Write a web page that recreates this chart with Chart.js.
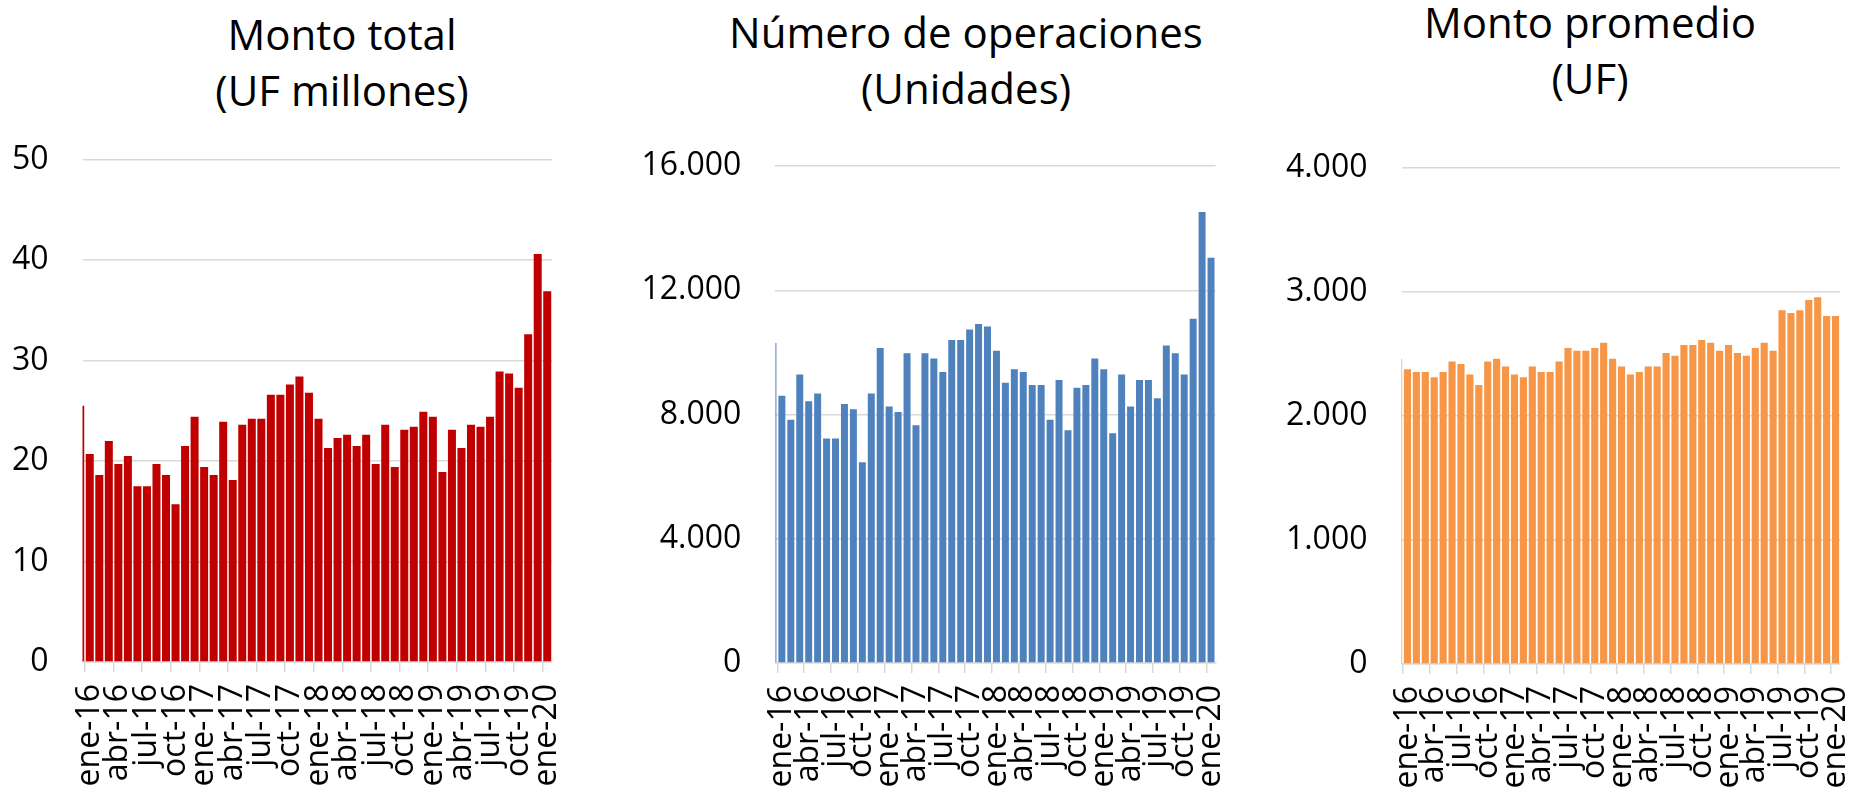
<!DOCTYPE html>
<html lang="es">
<head>
<meta charset="utf-8">
<title>Monto total, número de operaciones y monto promedio</title>
<script src="https://cdn.jsdelivr.net/npm/chart.js@4.4.1/dist/chart.umd.min.js"></script>
<style>
  body { margin: 0; background: #fff; width: 1850px; height: 794px; overflow: hidden; position: relative; font-family: 'Open Sans', sans-serif; }
  .panel { position: absolute; top: 0; height: 794px; }
  .titulo { position: absolute; transform: translateX(-50%); white-space: nowrap; text-align: center; font-size: 42px; line-height: 56px; color: #000; }
</style>
</head>
<body>

<div class="titulo" style="left:342px; top:6px">Monto total<br>(UF millones)</div>
<div class="titulo" style="left:966px; top:4px">Número de operaciones<br>(Unidades)</div>
<div class="titulo" style="left:1590px; top:-6px">Monto promedio<br>(UF)</div>

<div class="panel" style="left:0; width:600px"><canvas id="graficoMonto" width="600" height="794"></canvas></div>
<div class="panel" style="left:620px; width:620px"><canvas id="graficoOperaciones" width="620" height="794"></canvas></div>
<div class="panel" style="left:1250px; width:600px"><canvas id="graficoPromedio" width="600" height="794"></canvas></div>

<script>
// meses (el primero, dic-15, queda casi fuera del área del gráfico)
const meses = [
    'dic-15',
    'ene-16', 'feb-16', 'mar-16', 'abr-16', 'may-16', 'jun-16', 'jul-16', 'ago-16', 'sep-16', 'oct-16', 'nov-16', 'dic-16',
    'ene-17', 'feb-17', 'mar-17', 'abr-17', 'may-17', 'jun-17', 'jul-17', 'ago-17', 'sep-17', 'oct-17', 'nov-17', 'dic-17',
    'ene-18', 'feb-18', 'mar-18', 'abr-18', 'may-18', 'jun-18', 'jul-18', 'ago-18', 'sep-18', 'oct-18', 'nov-18', 'dic-18',
    'ene-19', 'feb-19', 'mar-19', 'abr-19', 'may-19', 'jun-19', 'jul-19', 'ago-19', 'sep-19', 'oct-19', 'nov-19', 'dic-19',
    'ene-20'
];

// etiquetas del eje x (cada 3 meses)
const etiquetasX = ['ene-16', 'abr-16', 'jul-16', 'oct-16', 'ene-17', 'abr-17', 'jul-17', 'oct-17',
    'ene-18', 'abr-18', 'jul-18', 'oct-18', 'ene-19', 'abr-19', 'jul-19', 'oct-19', 'ene-20'];

// Monto total (UF millones)
const montoTotal = [25.5,
    20.7, 18.6, 22.0, 19.7, 20.5, 17.5, 17.5, 19.7, 18.6, 15.7, 21.5, 24.4,
    19.4, 18.6, 23.9, 18.1, 23.6, 24.2, 24.2, 26.6, 26.6, 27.6, 28.4, 26.8,
    24.2, 21.3, 22.3, 22.6, 21.5, 22.6, 19.7, 23.6, 19.4, 23.1, 23.4, 24.9,
    24.4, 18.9, 23.1, 21.3, 23.6, 23.4, 24.4, 28.9, 28.7, 27.3, 32.6, 40.6,
    36.9];

// Número de operaciones (unidades)
const numeroOperaciones = [10300,
    8600, 7830, 9290, 8430, 8680, 7230, 7230, 8340, 8170, 6460, 8680, 10140,
    8260, 8080, 9970, 7650, 9970, 9800, 9370, 10400, 10400, 10740, 10910, 10830,
    10050, 9020, 9460, 9370, 8950, 8950, 7830, 9110, 7490, 8860, 8950, 9800,
    9460, 7400, 9290, 8260, 9110, 9110, 8520, 10220, 9970, 9290, 11080, 14520,
    13050];

// Monto promedio (UF)
const montoPromedio = [2460,
    2374, 2352, 2352, 2311, 2352, 2438, 2416, 2333, 2247, 2438, 2460, 2397,
    2333, 2311, 2397, 2352, 2352, 2438, 2546, 2524, 2524, 2546, 2588, 2460,
    2397, 2333, 2352, 2397, 2397, 2505, 2483, 2569, 2569, 2610, 2588, 2524,
    2569, 2505, 2483, 2546, 2588, 2524, 2849, 2827, 2849, 2932, 2954, 2804,
    2804];

// mínimo, máximo y paso de los ejes y
const ejeMonto = [0, 50, 10];
const ejeOperaciones = [0, 16000, 4000];
const ejePromedio = [0, 4000, 1000];

const ALTO = 794;
const fuente = { family: "'Open Sans', sans-serif", size: 32 };

function miles(v) {
    return String(v).replace(/\B(?=(\d{3})+(?!\d))/g, '.');
}

// izq: borde izquierdo del área, ini: marca de ene-16, der: borde derecho,
// arriba/base: pixel del máximo y del cero
function crearGrafico(id, datos, eje, color, ancho, caja) {
    const paso = (caja.der - caja.ini) / 49;
    const xmin = 0.5 - (caja.ini - caja.izq) / paso;
    const ctx = document.getElementById(id).getContext('2d');

    return new Chart(ctx, {
        type: 'bar',
        data: {
            labels: meses,
            datasets: [{
                data: datos.map((v, i) => ({ x: i, y: v })),
                backgroundColor: color,
                borderWidth: 0,
                barPercentage: ancho,
                categoryPercentage: 1,
                clip: 0
            }]
        },
        options: {
            responsive: false,
            animation: false,
            layout: { padding: { top: caja.arriba, right: ctx.canvas.width - caja.der, left: 0, bottom: 0 } },
            plugins: {
                legend: { display: false },
                tooltip: { enabled: false }
            },
            scales: {
                x: {
                    type: 'linear',
                    offset: false,
                    bounds: 'data',
                    min: xmin,
                    max: 49.5,
                    afterBuildTicks: s => {
                        s.ticks = etiquetasX.map(m => ({ value: meses.indexOf(m) - 0.5 }));
                    },
                    afterFit: s => {
                        s.height = ALTO - caja.base;
                        s.paddingLeft = 0;
                        s.paddingRight = 0;
                    },
                    grid: { offset: false, drawOnChartArea: false, drawTicks: true, tickLength: 10, color: '#d9d9d9', lineWidth: 1.5 },
                    border: { display: true, color: '#d9d9d9', width: 1.5 },
                    ticks: {
                        autoSkip: false,
                        minRotation: 90,
                        maxRotation: 90,
                        padding: 12,
                        labelOffset: paso / 2,
                        color: '#000',
                        font: fuente,
                        callback: (v, i) => etiquetasX[i]
                    }
                },
                y: {
                    min: eje[0],
                    max: eje[1],
                    afterFit: s => {
                        s.width = caja.izq;
                        s.paddingTop = 0;
                        s.paddingBottom = 0;
                    },
                    grid: { color: '#d9d9d9', lineWidth: 1.5, drawTicks: false },
                    border: { display: false },
                    ticks: {
                        stepSize: eje[2],
                        padding: 34,
                        color: '#000',
                        font: fuente,
                        callback: v => miles(v)
                    }
                }
            }
        }
    });
}

function dibujar() {
    crearGrafico('graficoMonto', montoTotal, ejeMonto, '#C00000', 0.84,
        { izq: 82.5, ini: 85, der: 552, arriba: 159.5, base: 662 });
    crearGrafico('graficoOperaciones', numeroOperaciones, ejeOperaciones, '#4F81BD', 0.78,
        { izq: 155.4, ini: 157.4, der: 595.5, arriba: 166, base: 663 });
    crearGrafico('graficoPromedio', montoPromedio, ejePromedio, '#F79646', 0.8,
        { izq: 151.5, ini: 153, der: 590, arriba: 167.5, base: 664 });
}

window.onload = function() {
    if (document.fonts && document.fonts.load) {
        document.fonts.load("32px 'Open Sans'").then(dibujar, dibujar);
    } else {
        dibujar();
    }
};
</script>
</body>
</html>
